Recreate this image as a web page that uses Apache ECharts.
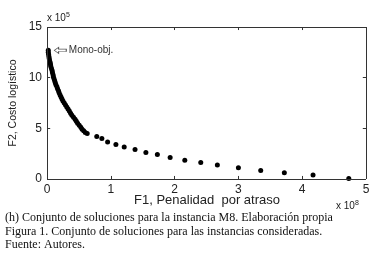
<!DOCTYPE html>
<html>
<head>
<meta charset="utf-8">
<script src="https://cdn.jsdelivr.net/npm/echarts@6/dist/echarts.min.js"></script>
<style>
  html, body { margin: 0; padding: 0; background: #fff; }
  #chart { width: 379px; height: 267px; }
  #err { position: absolute; left: 0; top: 0; color: red; font: 9px sans-serif; }
</style>
</head>
<body>
<div id="chart"></div>
<div id="err"></div>
<script>
// F1 in units of 1e8, F2 in units of 1e5
const f1Values = [
  0.02, 0.02, 0.025, 0.03, 0.035, 0.04, 0.05, 0.055, 0.06, 0.07,
  0.08, 0.085, 0.095, 0.10, 0.11, 0.12, 0.13, 0.14, 0.155, 0.165,
  0.18, 0.19, 0.205, 0.22, 0.235, 0.25, 0.27, 0.29, 0.31, 0.33,
  0.35, 0.37, 0.39, 0.415, 0.44, 0.46, 0.48, 0.505, 0.53, 0.55,
  0.575, 0.60, 0.63, 0.78, 0.86, 0.95, 1.08, 1.21, 1.38, 1.55,
  1.73, 1.93, 2.16, 2.41, 2.67, 3.0, 3.35, 3.72, 4.17, 4.73
]
const f2Values = [
  12.7, 12.5, 12.3, 12.1, 11.9, 11.7, 11.5, 11.3, 11.1, 10.9,
  10.7, 10.5, 10.3, 10.1, 9.9, 9.7, 9.5, 9.3, 9.1, 8.9,
  8.7, 8.5, 8.3, 8.1, 7.9, 7.7, 7.5, 7.3, 7.1, 6.9,
  6.7, 6.5, 6.3, 6.1, 5.9, 5.7, 5.5, 5.3, 5.1, 4.9,
  4.75, 4.6, 4.5, 4.2, 4.0, 3.66, 3.4, 3.17, 2.91, 2.61,
  2.42, 2.13, 1.86, 1.64, 1.37, 1.11, 0.85, 0.62, 0.39, 0.05
]
const xTicks = [0, 1, 2, 3, 4, 5]
const yTicks = [0, 5, 10, 15]
const xTitle = 'F1, Penalidad  por atraso'
const yTitle = 'F2, Costo logístico'
const captionLines = [
  '(h) Conjunto de soluciones para la instancia M8. Elaboración propia',
  'Figura 1. Conjunto de soluciones para las instancias consideradas.',
  'Fuente: Autores.'
]

function showErr(msg) {
  document.getElementById('err').textContent += ' ' + msg
}
window.addEventListener('error', e => showErr(e.message))

const points = f1Values.map((x, i) => [x, f2Values[i]])

const sans = 'Liberation Sans, Arial, sans-serif'
const serif = 'Liberation Serif, Times New Roman, serif'

const xMin = xTicks[0]
const xMax = xTicks[xTicks.length - 1]
const yMin = yTicks[0]
const yMax = yTicks[yTicks.length - 1]
// inward tick length in data units (about 3px on this plot)
const tickX = 0.05
const tickY = 0.3

// box frame + inward ticks on all four sides, drawn on the axes' scales
const frameLines = [{ xAxis: xMin }, { xAxis: xMax }, { yAxis: yMin }, { yAxis: yMax }]
xTicks.slice(1, -1).forEach(t => {
  frameLines.push([{ coord: [t, yMin] }, { coord: [t, yMin + tickY] }])
  frameLines.push([{ coord: [t, yMax] }, { coord: [t, yMax - tickY] }])
})
yTicks.slice(1, -1).forEach(t => {
  frameLines.push([{ coord: [xMin, t] }, { coord: [xMin + tickX, t] }])
  frameLines.push([{ coord: [xMax, t] }, { coord: [xMax - tickX, t] }])
})

const chart = echarts.init(document.getElementById('chart'))

try {
  chart.setOption({
    animation: false,
    backgroundColor: '#fff',
    grid: { left: 47, right: 13, top: 27, bottom: 88 },
    xAxis: {
      type: 'value',
      min: xMin,
      max: xMax,
      interval: 1,
      axisLine: { show: false },
      axisTick: { show: false },
      splitLine: { show: false },
      axisLabel: { fontFamily: sans, fontSize: 12, color: '#222', margin: 5 }
    },
    yAxis: {
      type: 'value',
      min: yMin,
      max: yMax,
      interval: 5,
      axisLine: { show: false },
      axisTick: { show: false },
      splitLine: { show: false },
      axisLabel: { fontFamily: sans, fontSize: 12, color: '#222', margin: 5 }
    },
    series: [
      {
        type: 'scatter',
        data: points,
        symbol: 'circle',
        symbolSize: 5,
        itemStyle: { color: '#000', opacity: 1 },
        markPoint: {
          symbol: 'path://M0,5 L5,0 L5,3 L14,3 L14,7 L5,7 L5,10 Z',
          symbolSize: [12, 6],
          symbolOffset: [12, 0],
          itemStyle: { color: '#fff', borderColor: '#555', borderWidth: 0.8 },
          label: {
            show: true,
            position: 'right',
            distance: 2,
            formatter: 'Mono-obj.',
            fontFamily: sans,
            fontSize: 10,
            color: '#333'
          },
          data: [{ coord: points[0] }]
        },
        markLine: {
          silent: true,
          symbol: ['none', 'none'],
          label: { show: false },
          lineStyle: { color: '#333', width: 1, type: 'solid' },
          emphasis: { disabled: true },
          data: frameLines
        }
      }
    ],
    graphic: [
      {
        type: 'text',
        x: 207,
        y: 200,
        style: { text: xTitle, font: '13px ' + sans, fill: '#222', align: 'center', verticalAlign: 'middle' }
      },
      {
        type: 'text',
        x: 13,
        y: 103,
        rotation: Math.PI / 2,
        style: { text: yTitle, font: '10.5px ' + sans, fill: '#222', align: 'center', verticalAlign: 'middle' }
      },
      {
        type: 'text',
        left: 47,
        top: 12,
        style: {
          text: 'x 10{s|5}',
          font: '10px ' + sans,
          fill: '#222',
          rich: { s: { fontSize: 7, verticalAlign: 'top', padding: [0, 0, 5, 0], fill: '#222' } }
        }
      },
      {
        type: 'text',
        left: 336,
        top: 200,
        style: {
          text: 'x 10{s|8}',
          font: '10px ' + sans,
          fill: '#222',
          rich: { s: { fontSize: 7, verticalAlign: 'top', padding: [0, 0, 5, 0], fill: '#222' } }
        }
      },
      ...captionLines.map((line, i) => ({
        type: 'text',
        left: 5,
        top: 212 + i * 13.5,
        style: { text: line, font: '12px ' + serif, fill: '#111' }
      }))
    ]
  })
} catch (e) {
  showErr(e.message)
}
</script>
</body>
</html>
